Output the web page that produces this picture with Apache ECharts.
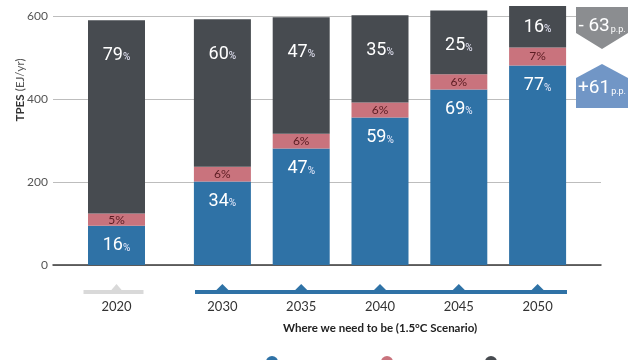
<!DOCTYPE html>
<html><head><meta charset="utf-8">
<script src="https://cdn.jsdelivr.net/npm/echarts@6/dist/echarts.min.js"></script>
<style>html,body{margin:0;padding:0;background:#fff}#c{width:640px;height:360px}</style>
</head><body><div id="c"></div>
<script>
const years = ['2020','2030','2035','2040','2045','2050'];
const totalEJ = [590, 592, 597, 602, 613, 624];
const renewPct = [16, 34, 47, 59, 69, 77];
const nuclearPct = [5, 6, 6, 6, 6, 7];
const fossilPct = [79, 60, 47, 35, 25, 16];
const yTicks = [0, 200, 400, 600];
const seriesNames = ['Renewables', 'Nuclear', 'Fossil fuels'];
const subtitle = 'Where we need to be (1.5°C Scenario)';
const yTitleBold = 'TPES';
const yTitleLight = '(EJ/yr)';

const COND = 'Roboto,sans-serif';
const SANS = 'Lato,"Noto Sans",sans-serif';
const C_BLUE = '#2f72a6', C_PINK = '#c9737d', C_DARK = '#474b50';

const plotTop = 16, plotBottom = 95, yMax = yTicks[yTicks.length-1];
const plotH = 360 - plotBottom - plotTop;
const barGridMax = yMax * (360 - plotBottom) / plotH;

const pctSets = [renewPct, nuclearPct, fossilPct];
const colors = [C_BLUE, C_PINK, C_DARK];

function bigRich(size){
  return {
    n:{fontFamily:COND,fontSize:size,color:'#fff'},
    p:{fontFamily:COND,fontSize:Math.round(size*0.55),color:'#eef',padding:[Math.round(size*0.3),0,0,0]}
  };
}

function mkSeries(k, idxs, axisIdx, stack){
  const pct = pctSets[k];
  const data = idxs.map(i => {
    const v = +(totalEJ[i] * pct[i] / 100).toFixed(1);
    const item = {value: v};
    if (k === 2 && i === years.length - 1) item.label = {distance: 12};
    return item;
  });
  let label;
  if (k === 1) {
    label = {show:true, position:'inside', fontFamily:SANS, fontSize:12, color:'#5b1c22',
      formatter: p => pct[idxs[p.dataIndex]] + '%'};
  } else {
    label = {show:true, position:'insideTop', distance: k === 0 ? 11 : 26,
      formatter: p => '{n|' + pct[idxs[p.dataIndex]] + '}{p|%}', rich: bigRich(18)};
  }
  return {
    name: seriesNames[k], type:'bar', stack: stack, xAxisIndex: axisIdx, yAxisIndex: axisIdx,
    barWidth: 57, data: data, itemStyle:{color: colors[k]}, label: label,
    emphasis:{disabled:true}, animation:false
  };
}

const idx1 = [0];
const idx2 = [1,2,3,4,5];
const series = [];
for (let k = 0; k < 3; k++) series.push(mkSeries(k, idx1, 1, 's1'));
for (let k = 0; k < 3; k++) series.push(mkSeries(k, idx2, 2, 's2'));

const chart = echarts.init(document.getElementById('c'), null, {renderer:'canvas'});
const legendX = [272, 387, 491];
const option = {
  animation:false,
  grid:[
    {left:53, right:39, top:plotTop, bottom:plotBottom},
    {left:77, width:79, top:0, bottom:plotBottom},
    {left:183, width:394, top:0, bottom:plotBottom}
  ],
  xAxis:[
    {gridIndex:0, type:'value', min:0, max:1, axisLabel:{show:false}, axisTick:{show:false},
      splitLine:{show:false}, axisLine:{show:true, lineStyle:{color:'#3a3a3a', width:1.5}}},
    {gridIndex:1, type:'category', data:idx1.map(i=>years[i]), axisLine:{show:false}, axisTick:{show:false},
      axisLabel:{margin:35, fontFamily:SANS, fontSize:13, color:'#333'}},
    {gridIndex:2, type:'category', data:idx2.map(i=>years[i]), axisLine:{show:false}, axisTick:{show:false},
      axisLabel:{margin:35, fontFamily:SANS, fontSize:13, color:'#333'},
      name: subtitle, nameLocation:'middle', nameGap:57,
      nameTextStyle:{fontFamily:SANS, fontSize:11.5, color:'#222', fontWeight:'bold'}}
  ],
  yAxis:[
    {gridIndex:0, type:'value', min:0, max:yMax, interval:yTicks[1]-yTicks[0], axisLine:{show:false}, axisTick:{show:false},
      axisLabel:{margin:5, fontFamily:SANS, fontSize:12, color:'#555'},
      splitLine:{lineStyle:{color:'#bdbdbd', width:1}}},
    {gridIndex:1, type:'value', min:0, max:barGridMax, show:false},
    {gridIndex:2, type:'value', min:0, max:barGridMax, show:false}
  ],
  legend: seriesNames.map((n,i)=>({data:[{name:n, itemStyle:{color:colors[i], borderWidth:0}}], left:legendX[i]-6, top:356,
    padding:0, icon:'circle', itemWidth:12, itemHeight:12,
    formatter: name => '{t|' + name + '}',
    textStyle:{fontFamily:SANS, fontSize:11, color:'#333', rich:{t:{fontFamily:SANS, fontSize:11, color:'#333', padding:[22,0,0,0]}}},
    selectedMode:false})),
  series: series
};
chart.setOption(option);

const gfx = [];
gfx.push({type:'text', x:20, y:90, rotation:Math.PI/2, style:{
  text:'{b|'+yTitleBold+'} {l|'+yTitleLight+'}', align:'center', verticalAlign:'middle',
  rich:{b:{fontFamily:SANS,fontWeight:'bold',fontSize:11.5,fill:'#333'}, l:{fontFamily:SANS,fontSize:11.5,fill:'#555'}}}});
const lineY = 292;
const x2020 = chart.convertToPixel({xAxisIndex:1}, years[0]);
gfx.push({type:'rect', shape:{x:x2020-33, y:lineY-2, width:60, height:4}, style:{fill:'#d9d9d9'}});
gfx.push({type:'polygon', shape:{points:[[x2020-6,lineY-1],[x2020,lineY-8],[x2020+6,lineY-1]]}, style:{fill:'#d9d9d9'}});
gfx.push({type:'rect', shape:{x:195, y:lineY-2, width:372, height:4}, style:{fill:C_BLUE}});
idx2.forEach(i => {
  const x = chart.convertToPixel({xAxisIndex:2}, years[i]);
  gfx.push({type:'polygon', shape:{points:[[x-7,lineY-1],[x,lineY-8],[x+7,lineY-1]]}, style:{fill:C_BLUE}});
});
const last = years.length - 1;
const fossilDiff = fossilPct[last] - fossilPct[0];
const renewDiff = renewPct[last] - renewPct[0];
const bx0 = 576, bx1 = 628, bxm = (bx0+bx1)/2;
gfx.push({type:'polygon', shape:{points:[[bx0,7],[bx1,7],[bx1,33],[bxm,49],[bx0,33]]}, style:{fill:'#8b8d90'}});
gfx.push({type:'polygon', shape:{points:[[bx0,78],[bxm,64],[bx1,78],[bx1,108],[bx0,108]]}, style:{fill:'#7196c6'}});
const badgeRich = {n:{fontFamily:COND,fontSize:19,fill:'#fff'}, p:{fontFamily:COND,fontSize:9,fill:'#fff',padding:[7,0,0,1]}};
const fmtDiff = d => (d < 0 ? '- ' + Math.abs(d) : '+' + d);
gfx.push({type:'text', x:bxm, y:26, style:{text:'{n|'+fmtDiff(fossilDiff)+'}{p|p.p.}',
  align:'center', verticalAlign:'middle', rich:badgeRich}});
gfx.push({type:'text', x:bxm, y:88, style:{text:'{n|'+fmtDiff(renewDiff)+'}{p|p.p.}',
  align:'center', verticalAlign:'middle', rich:badgeRich}});
chart.setOption({graphic: gfx});
</script></body></html>
